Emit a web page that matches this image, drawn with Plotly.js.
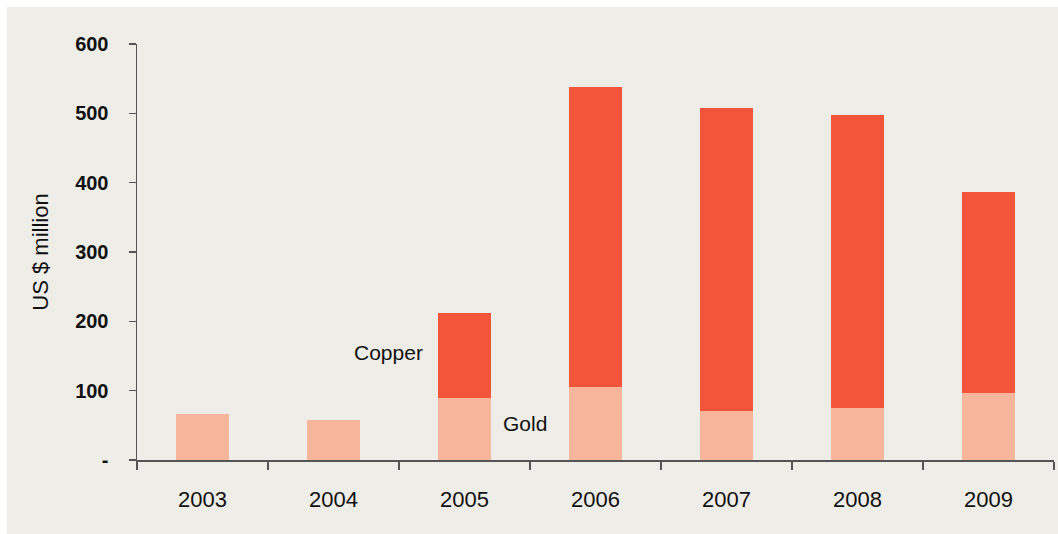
<!DOCTYPE html>
<html>
<head>
<meta charset="utf-8">
<script src="https://cdn.plot.ly/plotly-3.0.1.min.js"></script>
<style>
  html, body { margin: 0; padding: 0; background: #ffffff; }
  #chart { position: absolute; left: 7px; top: 7px; width: 1051px; height: 527px; }
</style>
</head>
<body>
<div id="chart"></div>
<script>
const years = ["2003", "2004", "2005", "2006", "2007", "2008", "2009"];
const gold = [67, 58, 90, 106, 71, 75, 96];
const copper = [0, 0, 122, 432, 437, 423, 291];
const yTickVals = [0, 100, 200, 300, 400, 500, 600];
const yTickText = ["-", "100", "200", "300", "400", "500", "600"];

const FONT = "'Liberation Sans Narrow', 'Arial Narrow', 'Liberation Sans', Arial, sans-serif";

const traces = [
  { type: "bar", name: "Gold", x: years, y: gold, marker: { color: "#F7B59B" }, hoverinfo: "x+y+name" },
  { type: "bar", name: "Copper", x: years, y: copper, marker: { color: "#F3553B" }, hoverinfo: "x+y+name" }
];

const layout = {
  width: 1051, height: 527,
  paper_bgcolor: "#efede8", plot_bgcolor: "#efede8",
  barmode: "stack", bargap: 0.6,
  showlegend: false,
  margin: { l: 130, r: 4, t: 37, b: 74 },
  font: { family: FONT, color: "#111111", size: 21 },
  xaxis: {
    type: "category",
    showgrid: false, zeroline: false,
    showline: true, linecolor: "#555555", linewidth: 1.5,
    ticks: "outside", tickson: "boundaries", ticklen: 8, tickcolor: "#555555", tickwidth: 1.5,
    tickfont: { family: FONT, size: 22, color: "#111111" },
    ticklabelstandoff: 19
  },
  yaxis: {
    range: [0, 600],
    showgrid: false, zeroline: false,
    showline: true, linecolor: "#555555", linewidth: 1.5,
    ticks: "outside", ticklen: 7, tickcolor: "#555555", tickwidth: 1.5,
    tickvals: yTickVals, ticktext: yTickText,
    tickfont: { family: FONT, size: 20, color: "#111111", weight: "bold" },
    ticklabelstandoff: 16,
    title: { text: "US $ million", font: { family: FONT, size: 22, color: "#111111" }, standoff: 20 }
  },
  annotations: [
    { text: "Copper", xref: "x", yref: "y", x: 1.42, y: 155, showarrow: false,
      font: { family: FONT, size: 21, color: "#111111" } },
    { text: "Gold", xref: "x", yref: "y", x: 2.46, y: 52, showarrow: false,
      font: { family: FONT, size: 21, color: "#111111" } }
  ]
};

Plotly.newPlot("chart", traces, layout, { displayModeBar: false, staticPlot: true });
</script>
</body>
</html>
